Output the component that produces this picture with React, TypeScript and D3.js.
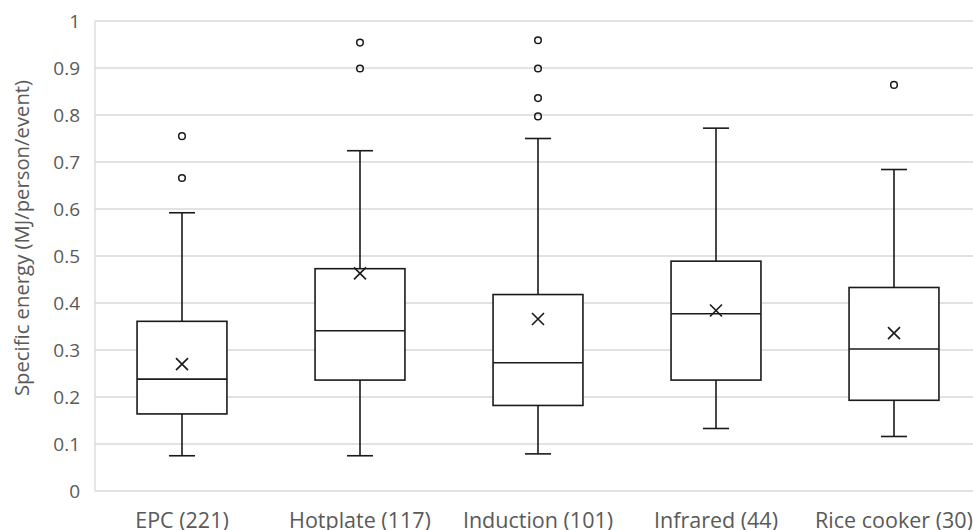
import React from "react";
import * as d3 from "d3";

// box plot data (MJ/person/event)
const categories = ["EPC (221)", "Hotplate (117)", "Induction (101)", "Infrared (44)", "Rice cooker (30)"];
const whiskerLow = [0.075, 0.075, 0.079, 0.133, 0.116];
const q1 = [0.164, 0.236, 0.182, 0.236, 0.193];
const median = [0.238, 0.341, 0.273, 0.377, 0.302];
const q3 = [0.361, 0.473, 0.418, 0.489, 0.433];
const whiskerHigh = [0.592, 0.724, 0.75, 0.772, 0.684];
const means = [0.27, 0.463, 0.366, 0.384, 0.336];
const outliers = [
  [0.666, 0.755],
  [0.899, 0.954],
  [0.797, 0.836, 0.899, 0.959],
  [],
  [0.864],
];
const yTicks = [0, 0.1, 0.2, 0.3, 0.4, 0.5, 0.6, 0.7, 0.8, 0.9, 1];

const W = 973;
const H = 530;
const margin = { left: 93, right: -10, top: 21, bottom: 39 };
const font = "'Open Sans', Lato, sans-serif";

export default function App() {
  const x = d3
    .scaleBand()
    .domain(categories)
    .range([margin.left, W - margin.right])
    .padding(0);

  const y = d3
    .scaleLinear()
    .domain([0, 1])
    .range([H - margin.bottom, margin.top]);

  const boxW = x.bandwidth() * 0.505;
  const capW = 26;
  const ink = "#1a1a1a";
  const axisX = 95;

  return (
    <svg
      width={W}
      height={H}
      style={{ position: "absolute", left: 0, top: 0, background: "#fff" }}
    >
      {/* grid */}
      <g>
        {yTicks.map((t) => (
          <line
            key={t}
            x1={axisX}
            x2={W}
            y1={y(t)}
            y2={y(t)}
            stroke="#d9d9d9"
            strokeWidth={1.3}
          />
        ))}
        <line x1={axisX} x2={axisX} y1={y(1)} y2={y(0)} stroke="#d9d9d9" strokeWidth={1.3} />
      </g>

      {/* y tick labels */}
      <g fontFamily={font} fontSize={19} fill="#595959" textAnchor="end">
        {yTicks.map((t) => (
          <text key={t} x={80} y={y(t)} dy="0.36em">
            {d3.format("~g")(t)}
          </text>
        ))}
      </g>

      <text
        transform={`translate(29,238) rotate(-90)`}
        textAnchor="middle"
        fontFamily={font}
        fontSize={20.3}
        fill="#595959"
      >
        Specific energy (MJ/person/event)
      </text>

      {/* x labels */}
      <g fontFamily={font} fontSize={21.5} fill="#595959" textAnchor="middle">
        {categories.map((c) => (
          <text key={c} x={x(c)! + x.bandwidth() / 2} y={528}>
            {c}
          </text>
        ))}
      </g>

      {/* boxes */}
      {categories.map((c, i) => {
        const cx = x(c)! + x.bandwidth() / 2;
        return (
          <g key={c} stroke={ink} strokeWidth={1.6} fill="none">
            <line x1={cx} x2={cx} y1={y(whiskerHigh[i])} y2={y(q3[i])} />
            <line x1={cx} x2={cx} y1={y(q1[i])} y2={y(whiskerLow[i])} />
            <line x1={cx - capW / 2} x2={cx + capW / 2} y1={y(whiskerHigh[i])} y2={y(whiskerHigh[i])} />
            <line x1={cx - capW / 2} x2={cx + capW / 2} y1={y(whiskerLow[i])} y2={y(whiskerLow[i])} />
            <rect
              x={cx - boxW / 2}
              y={y(q3[i])}
              width={boxW}
              height={y(q1[i]) - y(q3[i])}
              fill="#fff"
            />
            <line x1={cx - boxW / 2} x2={cx + boxW / 2} y1={y(median[i])} y2={y(median[i])} />
            <path
              d={`M${cx - 6},${y(means[i]) - 6}L${cx + 6},${y(means[i]) + 6}M${cx - 6},${y(means[i]) + 6}L${cx + 6},${y(means[i]) - 6}`}
            />
            {outliers[i].map((o, j) => (
              <circle key={j} cx={cx} cy={y(o)} r={3.3} strokeWidth={1.5} />
            ))}
          </g>
        );
      })}
    </svg>
  );
}
